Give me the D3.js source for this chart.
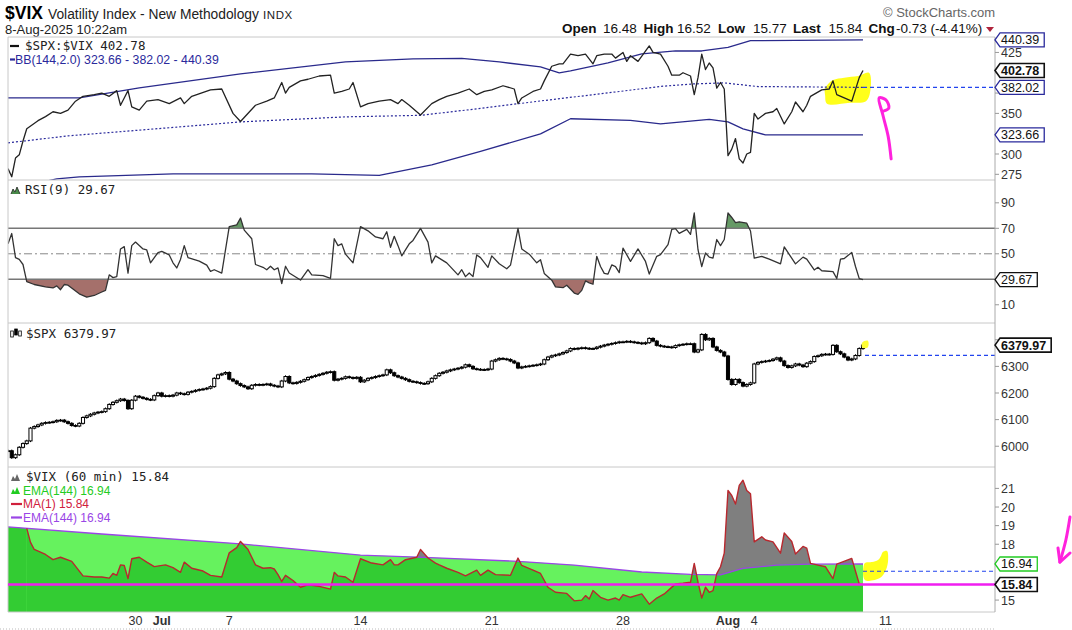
<!DOCTYPE html>
<html>
<head>
<meta charset="utf-8">
<script src="https://cdn.jsdelivr.net/npm/d3@7"></script>
<style>
body { margin: 0; background: #fff; }
svg { display: block; font-family: "Liberation Sans", Arial, sans-serif; }
</style>
</head>
<body>
<svg id="chart" width="1072" height="630"></svg>
<script>
// trading sessions on the time axis: [day, hourly bars]
const sessions = [
  ["Jun 23",6],["Jun 24",7],["Jun 25",7],["Jun 26",7],["Jun 27",7],
  ["Jun 30",7],["Jul 1",7],["Jul 2",7],["Jul 3",4],
  ["Jul 7",7],["Jul 8",7],["Jul 9",7],["Jul 10",7],["Jul 11",7],
  ["Jul 14",7],["Jul 15",7],["Jul 16",7],["Jul 17",7],["Jul 18",7],
  ["Jul 21",7],["Jul 22",7],["Jul 23",7],["Jul 24",7],["Jul 25",7],
  ["Jul 28",7],["Jul 29",7],["Jul 30",7],["Jul 31",7],["Aug 1",7],
  ["Aug 4",7],["Aug 5",7],["Aug 6",7],["Aug 7",7],["Aug 8",7],["Aug 11",7]
]
const tickDays   = ["Jun 30","Jul 1","Jul 7","Jul 14","Jul 21","Jul 28","Aug 1","Aug 4","Aug 11"]
const tickLabels = ["30","Jul","7","14","21","28","Aug","4","11"]

// $SPX:$VIX ratio, [bar, value]
const ratio = [[0,282],[1,272],[2,295],[3,299],[4,316],[5,331],[8,341],[10,346],[12,352],[14,350],[16,354],[18,365],[20,371],[23,373],[25,375],[27,371],[29,378],[30,360],[31,369],[32,378],[33,358],[35,354],[37,365],[40,367],[43,362],[46,369],[47,362],[49,371],[54,379],[57,380],[60,350],[62,340],[66,360],[69,365],[71,369],[73,388],[74,375],[75,382],[78,390],[80,392],[83,396],[86,397],[87,375],[89,377],[91,380],[92,388],[94,358],[96,362],[99,365],[102,367],[104,362],[105,367],[107,360],[110,348],[113,362],[115,367],[117,371],[120,375],[123,380],[125,373],[127,377],[129,379],[132,384],[135,380],[136,362],[137,369],[140,377],[142,380],[143,390],[145,408],[147,411],[148,411],[150,423],[152,421],[154,423],[156,411],[157,421],[159,423],[161,423],[162,418],[164,425],[165,414],[166,421],[168,414],[171,433],[172,425],[174,423],[176,408],[177,397],[179,397],[180,400],[182,396],[183,373],[184,394],[185,423],[186,404],[187,412],[188,406],[189,381],[190,388],[191,380],[192,298],[193,306],[194,319],[195,294],[196,289],[197,300],[198,302],[199,350],[200,343],[202,350],[204,352],[205,356],[207,337],[209,352],[210,364],[212,352],[213,360],[214,371],[217,379],[219,380],[220,390],[221,373],[225,365],[227,394],[228,402.78]]
const bbUpper = [[0,369],[19,369],[35,381.3],[62,398.5],[90,413.3],[108,417],[121,417.6],[131,413.3],[142,407.2],[147,399.8],[150,402.2],[160,412.1],[169,423.2],[178,426.8],[185,426.8],[192,431.2],[198,439.5],[228,440.39]]
const bbMid = [[0,313.7],[16,322.3],[44,332.7],[62,339.5],[90,345.7],[110,347.6],[126,356.1],[142,365.3],[160,375.2],[174,383.2],[183,386.3],[191,387.5],[200,383],[228,382.02]]
const bbLower = [[0,256],[13,269.4],[19,271.9],[44,275.6],[81,275.6],[99,273.6],[113,286.6],[126,303.2],[142,324.8],[150,343.4],[166,341.4],[174,337],[187,342.7],[192,339.5],[196,330.9],[202,323.5],[221,323.5],[228,323.66]]

// RSI(9), [bar, value]
const rsi = [[0,57.8],[1,65.9],[2,47],[3,45.6],[4,41.6],[5,28.1],[7,25.9],[10,24],[12,23.2],[13,24.8],[14,21.8],[15,25.9],[16,25.4],[19,18.6],[21,16],[23,17.3],[25,20],[26,21.3],[27,33.5],[28,31.3],[29,32.1],[30,53.8],[31,55.6],[32,34.9],[33,56.4],[34,59.2],[36,53.8],[37,53],[38,42.9],[40,51],[41,51.9],[43,49.1],[44,42.9],[45,38.9],[46,45.6],[47,56.4],[48,47],[51,44.3],[53,41.1],[54,36.2],[55,37.5],[57,34.9],[59,71.3],[61,72.7],[62,78.1],[63,68.6],[65,61.8],[66,41.6],[68,39.4],[69,37.5],[70,40.2],[71,37.5],[72,38.9],[73,26.7],[74,40.2],[75,34.9],[78,29.4],[80,37.5],[81,33.5],[84,32.9],[86,30.8],[87,61.8],[88,56.4],[89,57.8],[90,49.7],[92,42.9],[94,71.3],[96,68],[98,63.2],[100,61.8],[101,67.3],[102,55.1],[103,63.7],[104,56.4],[105,48.4],[107,57.8],[108,60.5],[110,69.9],[112,59.2],[113,42.9],[114,48.4],[117,42.9],[120,33.5],[121,37.5],[122,32.1],[123,34.9],[124,32.1],[125,49.1],[126,47],[128,39.4],[129,48.4],[131,42.2],[133,38.3],[134,41.1],[136,69.9],[137,53.8],[139,49.7],[141,42.9],[142,45.3],[143,34.6],[145,29.3],[146,24],[148,23.4],[149,25.3],[151,19.2],[152,18.2],[153,21.3],[154,28.7],[155,27.2],[156,26.1],[157,48],[158,40],[159,34.6],[160,34.1],[161,41.3],[162,40],[163,35.2],[164,54.5],[166,44],[168,53.8],[170,44],[171,34.1],[173,48],[174,49.3],[176,57.2],[177,69.2],[178,69.8],[179,66],[181,69.2],[182,65.2],[183,82],[184,53.2],[185,40],[186,50.6],[187,47.4],[188,46.6],[189,61.2],[190,56.4],[191,61.2],[192,82],[193,78.5],[194,74.5],[195,75.1],[197,74],[198,67.9],[199,46.6],[201,48],[203,45.8],[206,42.1],[207,55.4],[210,42.1],[212,47.4],[213,45.8],[215,37.3],[216,39.4],[217,36.7],[220,36],[221,30.6],[222,45.8],[223,46.3],[225,51.1],[226,40],[227,30.5],[228,29.67]]

// $SPX hourly closes, one row per session
const spxClose = [
  5983,5957,5968,5996,6010,6020,
  6068,6074,6080,6086,6089,6090,6092,
  6097,6098,6092,6086,6078,6076,6086,
  6108,6114,6120,6125,6128,6130,6141,
  6157,6165,6171,6177,6172,6141,6173,
  6188,6184,6180,6176,6174,6190,6200,
  6188,6190,6188,6192,6200,6197,6195,
  6203,6206,6210,6213,6215,6218,6224,
  6255,6268,6272,6277,
  6252,6245,6235,6228,6223,6216,6229,
  6232,6230,6232,6234,6229,6226,6223,
  6245,6262,6238,6236,6240,6244,6250,
  6258,6262,6266,6270,6274,6278,6280,
  6248,6252,6255,6261,6258,6255,6259,
  6242,6248,6255,6258,6262,6265,6268,
  6287,6276,6265,6260,6255,6250,6244,
  6242,6239,6236,6235,6242,6255,6265,
  6274,6278,6283,6287,6290,6293,6297,
  6306,6300,6291,6289,6288,6287,6290,
  6320,6325,6330,6328,6326,6320,6313,
  6294,6298,6300,6302,6304,6306,6309,
  6325,6335,6340,6343,6347,6352,6358,
  6367,6365,6368,6370,6368,6366,6367,
  6372,6376,6380,6383,6386,6389,6392,
  6392,6394,6392,6390,6388,6385,6389,
  6405,6395,6379,6376,6374,6373,6371,
  6378,6381,6383,6385,6385,6354,6362,
  6420,6400,6405,6373,6360,6354,6339,
  6251,6232,6251,6239,6226,6232,6238,
  6309,6315,6318,6320,6322,6327,6332,
  6320,6303,6296,6302,6309,6305,6299,
  6312,6318,6337,6340,6345,6346,6345,
  6379,6355,6347,6335,6324,6328,6341,
  6367,6379.97
]

// $VIX (60 min) close = MA(1), and EMA(144), [bar, value]
const vix = [[5,18.85],[6,18.1],[7,17.72],[10,17.45],[12,17.17],[14,17.3],[17,17.08],[20,16.3],[23,16.24],[25,16.24],[27,16.18],[28,16.43],[29,16.33],[30,16.89],[31,16.86],[32,16.15],[33,17.22],[35,17.3],[37,17.04],[39,16.8],[42,16.89],[44,16.74],[46,16.49],[47,17.04],[49,16.71],[52,16.56],[54,16.33],[57,16.24],[59,17.54],[61,17.82],[62,18.15],[64,17.72],[66,16.89],[68,16.71],[70,16.74],[71,16.67],[72,16.37],[73,16.0],[74,16.33],[76,16.05],[78,15.69],[80,15.82],[83,15.74],[86,15.59],[87,16.49],[88,16.3],[90,16.24],[92,15.96],[94,17.22],[97,16.99],[100,16.89],[102,17.17],[103,16.89],[104,16.89],[106,17.17],[109,17.3],[110,17.72],[112,17.26],[114,16.99],[115,16.89],[117,16.71],[120,16.49],[122,16.3],[125,16.61],[126,16.33],[128,16.61],[130,16.37],[134,16.33],[136,17.26],[137,16.86],[140,16.61],[142,16.43],[144,15.69],[146,15.42],[149,15.36],[151,14.96],[153,15.0],[154,15.24],[155,15.06],[156,15.51],[158,15.15],[160,15.0],[162,15.11],[163,15.0],[164,15.29],[166,15.15],[169,15.33],[171,14.78],[173,15.11],[175,15.33],[178,15.87],[180,15.91],[182,15.96],[183,16.97],[184,15.96],[185,15.11],[186,15.69],[187,15.42],[188,15.51],[189,16.42],[190,16.79],[191,17.52],[192,20.89],[193,20.62],[194,20.16],[195,21.16],[196,21.44],[197,20.89],[198,20.71],[199,18.13],[201,18.4],[202,18.23],[204,18.13],[206,17.52],[207,18.61],[209,18.15],[210,17.48],[212,17.88],[213,17.79],[214,16.97],[216,16.88],[218,16.79],[220,16.15],[221,16.93],[225,17.24],[226,16.55],[227,15.87],[228,15.84]]
const ema144 = [[0,18.93],[25,18.55],[62,18.02],[94,17.42],[111,17.3],[136,17.08],[151,16.88],[169,16.51],[182,16.38],[190,16.35],[196,16.7],[205,16.88],[214,16.93],[228,16.94]]

// hand-drawn marks on the chart, [bar, value]
const markRatio = [[217.9,381],[220,391],[223,394],[226.7,396],[229.6,400],[230,379],[228.8,365],[224.5,363],[218.4,362],[217.9,372]]
const arrowRatio = [[235.5,294],[234.7,322],[233.3,348],[232.3,369],[234.1,366.6],[234.9,356.7],[233.6,353]]
const markSpx = [[227.8,6370],[227.8,6390],[229.3,6396],[229.3,6372]]
const markVix = [[228.5,16.99],[230.4,17.04],[232,17.15],[232.8,17.37],[233.3,17.58],[234.4,17.64],[234.7,17.15],[234.1,16.61],[232.5,16.18],[228.5,16.08]]
const arrowVixStem = [[283.2,19.46],[282.1,18.23],[280.5,17.04]]
const arrowVixHead = [[280,17.8],[280.5,17.04],[283.2,17.53]]

const svg = d3.select("#chart")
const defs = svg.append("defs")
const fmt = d3.format(".2f")

const barStart = {}
let acc = 0
sessions.forEach(([d, n]) => { barStart[d] = acc; acc += n })

const left = 8, right = 995
const x = d3.scaleLinear().domain([0, 263.2]).range([left, right])

const yRatio = d3.scaleLinear().domain([268, 444]).range([180, 37])
const yRsi = d3.scaleLinear().domain([-4.3, 107.9]).range([323, 180])
const ySpx = d3.scaleLinear().domain([5922, 6463]).range([467, 323])
const yVix = d3.scaleLinear().domain([14.36, 22.15]).range([612, 467])

const panels = [
  {id: "p1", y: yRatio}, {id: "p2", y: yRsi}, {id: "p3", y: ySpx}, {id: "p4", y: yVix}
]
panels.forEach(p => {
  const [b, t] = p.y.range()
  p.top = t; p.bottom = b
  defs.append("clipPath").attr("id", "clip-" + p.id)
    .append("rect").attr("x", left).attr("y", t).attr("width", right - left).attr("height", b - t)
  p.g = svg.append("g").attr("clip-path", "url(#clip-" + p.id + ")")
})

const lineOf = y => d3.line().x(d => x(d[0])).y(d => y(d[1]))
function drawLine(g, data, y, color, width, dash) {
  return g.append("path").datum(data).attr("d", lineOf(y))
    .attr("fill", "none").attr("stroke", color).attr("stroke-width", width)
    .attr("stroke-linejoin", "round").attr("stroke-dasharray", dash || null)
}
function drawMark(g, data, y, color) {
  g.append("path").datum(data).attr("d", lineOf(y).curve(d3.curveCatmullRomClosed))
    .attr("fill", color).attr("stroke", "none")
}
function drawPen(data, y, curve) {
  svg.append("path").datum(data).attr("d", lineOf(y).curve(curve || d3.curveLinear))
    .attr("fill", "none").attr("stroke", "#ff22dd").attr("stroke-width", 3)
    .attr("stroke-linecap", "round").attr("stroke-linejoin", "round")
}

// ---------- header ----------
svg.append("text").attr("x", 5).attr("y", 19).attr("font-size", 17.5).attr("font-weight", "bold").text("$VIX")
svg.append("text").attr("x", 48).attr("y", 19).attr("font-size", 13.8).attr("fill", "#222").text("Volatility Index - New Methodology")
svg.append("text").attr("x", 263).attr("y", 19).attr("font-size", 11.5).attr("fill", "#222").attr("letter-spacing", 0.6).text("INDX")
svg.append("text").attr("x", 5).attr("y", 34).attr("font-size", 13).attr("fill", "#222").text("8-Aug-2025 10:22am")
svg.append("text").attr("x", 883).attr("y", 17).attr("font-size", 13).attr("fill", "#666").text("\u00a9 StockCharts.com")

const quote = [["Open", 562], ["16.48", 603], ["High", 643.5], ["16.52", 677], ["Low", 718], ["15.77", 753],
  ["Last", 793], ["15.84", 828.5], ["Chg", 868.5], ["-0.73 (-4.41%)", 896]]
quote.forEach((q, i) => {
  svg.append("text").attr("x", q[1]).attr("y", 33).attr("font-size", 13.5)
    .attr("font-weight", i % 2 ? "normal" : "bold").attr("fill", "#111").text(q[0])
})
svg.append("path").attr("d", "M986,27 L994,27 L990,32 Z").attr("fill", "#b0243c")

// ---------- frames ----------
const frame = svg.append("g").attr("stroke", "#c8c8c8").attr("fill", "none")
panels.forEach(p => frame.append("line").attr("x1", left).attr("x2", right).attr("y1", p.top).attr("y2", p.top))
frame.append("line").attr("x1", left).attr("x2", right).attr("y1", 612).attr("y2", 612)
frame.append("line").attr("x1", left).attr("x2", left).attr("y1", 37).attr("y2", 612)
frame.append("line").attr("x1", right).attr("x2", right).attr("y1", 37).attr("y2", 612).attr("stroke", "#aaa")
svg.append("line").attr("x1", 0).attr("x2", right).attr("y1", 629).attr("y2", 629)
  .attr("stroke", "#bbb").attr("stroke-dasharray", "1,2")

// ---------- panel 1: $SPX:$VIX with Bollinger Bands ----------
const g1 = panels[0].g
drawMark(g1, markRatio, yRatio, "#ffff1a")
drawLine(g1, bbUpper, yRatio, "#2a2a8c", 1.3)
drawLine(g1, bbLower, yRatio, "#2a2a8c", 1.3)
drawLine(g1, bbMid, yRatio, "#2a2a9c", 1.2, "2,2")
drawLine(g1, ratio, yRatio, "#222", 1.3)
const midLast = bbMid[bbMid.length - 1]
g1.append("line").attr("x1", x(midLast[0])).attr("x2", right).attr("y1", yRatio(midLast[1])).attr("y2", yRatio(midLast[1]))
  .attr("stroke", "#2244ee").attr("stroke-width", 1.2).attr("stroke-dasharray", "4,3")
drawPen(arrowRatio, yRatio, d3.curveCatmullRom)

// ---------- panel 2: RSI ----------
const g2 = panels[1].g
defs.append("clipPath").attr("id", "rsi-low").append("rect")
  .attr("x", left).attr("y", yRsi(30)).attr("width", right - left).attr("height", 323 - yRsi(30))
defs.append("clipPath").attr("id", "rsi-high").append("rect")
  .attr("x", left).attr("y", 180).attr("width", right - left).attr("height", yRsi(70) - 180)
g2.append("path").datum(rsi).attr("clip-path", "url(#rsi-low)")
  .attr("d", d3.area().x(d => x(d[0])).y0(yRsi(30)).y1(d => yRsi(d[1]))).attr("fill", "#a5706b")
g2.append("path").datum(rsi).attr("clip-path", "url(#rsi-high)")
  .attr("d", d3.area().x(d => x(d[0])).y0(yRsi(70)).y1(d => yRsi(d[1]))).attr("fill", "#669a66")
;[70, 30].forEach(v => g2.append("line").attr("x1", left).attr("x2", right).attr("y1", yRsi(v)).attr("y2", yRsi(v))
  .attr("stroke", "#777").attr("stroke-width", 1.4))
g2.append("line").attr("x1", left).attr("x2", right).attr("y1", yRsi(50)).attr("y2", yRsi(50))
  .attr("stroke", "#888").attr("stroke-width", 1).attr("stroke-dasharray", "8,3,2,3")
drawLine(g2, rsi, yRsi, "#333", 1.3)

// ---------- panel 3: $SPX candles ----------
const g3 = panels[2].g
const candles = spxClose.map((c, i) => ({i: i, o: i ? spxClose[i - 1] : c, c: c}))
const cw = 3.1
g3.selectAll("line.wick").data(candles).enter().append("line").attr("class", "wick")
  .attr("x1", d => x(d.i)).attr("x2", d => x(d.i))
  .attr("y1", d => ySpx(Math.max(d.o, d.c)) - 1.2).attr("y2", d => ySpx(Math.min(d.o, d.c)) + 1.2)
  .attr("stroke", "#000").attr("stroke-width", 1)
g3.selectAll("rect.body").data(candles).enter().append("rect").attr("class", "body")
  .attr("x", d => x(d.i) - cw / 2).attr("width", cw)
  .attr("y", d => ySpx(Math.max(d.o, d.c)))
  .attr("height", d => Math.max(0.8, Math.abs(ySpx(d.o) - ySpx(d.c))))
  .attr("fill", d => d.c >= d.o ? "#fff" : "#000").attr("stroke", "#000").attr("stroke-width", 1)
drawMark(g3, markSpx, ySpx, "#ffff33")
const spxPrev = spxClose[spxClose.length - 3]
g3.append("line").attr("x1", x(spxClose.length - 1) + 2).attr("x2", right).attr("y1", ySpx(spxPrev)).attr("y2", ySpx(spxPrev))
  .attr("stroke", "#2244ee").attr("stroke-width", 1.2).attr("stroke-dasharray", "4,3")

// ---------- panel 4: $VIX areas ----------
const g4 = panels[3].g
const bottom4 = 612
const areaOf = () => d3.area().x(d => x(d[0])).y0(bottom4).y1(d => yVix(d[1]))
defs.append("clipPath").attr("id", "ema-clip").append("path").datum(ema144).attr("d", areaOf())
defs.append("clipPath").attr("id", "pre-vix").append("rect")
  .attr("x", left).attr("y", 467).attr("width", x(vix[0][0]) - left).attr("height", bottom4 - 467)
g4.append("path").datum(vix).attr("d", areaOf()).attr("fill", "#7f7f7f")
g4.append("path").datum(ema144).attr("d", areaOf()).attr("fill", "#66f25e")
g4.append("path").datum(vix).attr("d", areaOf()).attr("clip-path", "url(#ema-clip)").attr("fill", "#33cc33")
g4.append("path").datum(ema144).attr("d", areaOf()).attr("clip-path", "url(#pre-vix)").attr("fill", "#33cc33")
drawMark(g4, markVix, yVix, "#ffff1a")
drawLine(g4, ema144, yVix, "#9a45e6", 1.3)
drawLine(g4, vix, yVix, "#b8282e", 1.4)
const vixLast = vix[vix.length - 1], vixPrev = vix[vix.length - 3]
g4.append("line").attr("x1", x(vixLast[0])).attr("x2", right).attr("y1", yVix(vixPrev[1])).attr("y2", yVix(vixPrev[1]))
  .attr("stroke", "#2244ee").attr("stroke-width", 1.2).attr("stroke-dasharray", "4,3")
svg.append("line").attr("x1", left).attr("x2", right).attr("y1", yVix(vixLast[1])).attr("y2", yVix(vixLast[1]))
  .attr("stroke", "#f01ef0").attr("stroke-width", 2.5)
drawPen(arrowVixStem, yVix, d3.curveCatmullRom)
drawPen(arrowVixHead, yVix)

// ---------- right axes and value tags ----------
const tagSpots = []
function tag(y, value, color, bold) {
  tagSpots.push({y: y, yPos: y(value), value: value, color: color, bold: bold})
}
const last = a => a[a.length - 1][1]
tag(yRatio, last(bbUpper), "#2a2a9c", false)
tag(yRatio, last(ratio), "#111", true)
tag(yRatio, last(bbMid), "#2a2a9c", false)
tag(yRatio, last(bbLower), "#2a2a9c", false)
tag(yRsi, last(rsi), "#111", false)
tag(ySpx, spxClose[spxClose.length - 1], "#111", true)
tag(yVix, last(ema144), "#22cc22", false)
tag(yVix, last(vix), "#111", true)

function axisLabels(y, ticks) {
  ticks.forEach(v => {
    const yp = y(v)
    svg.append("line").attr("x1", right).attr("x2", right + 4).attr("y1", yp).attr("y2", yp).attr("stroke", "#999")
    // labels sitting under a value tag are covered by it
    if (tagSpots.some(t => Math.abs(t.yPos - yp) < 11)) return
    svg.append("text").attr("x", right + 6).attr("y", yp + 4.5).attr("font-size", 12.5).attr("fill", "#333").text(v)
  })
}
axisLabels(yRatio, [275, 300, 325, 350, 375, 400, 425])
axisLabels(yRsi, [10, 30, 50, 70, 90])
axisLabels(ySpx, [6000, 6100, 6200, 6300, 6400])
axisLabels(yVix, [15, 16, 17, 18, 19, 20, 21])

tagSpots.forEach(s => {
  const g = svg.append("g")
  const path = g.append("path")
  const t = g.append("text").attr("x", right + 6).attr("y", s.yPos + 4.5).attr("font-size", 12.5)
    .attr("font-weight", s.bold ? "bold" : "normal").attr("fill", "#111").text(fmt(s.value))
  const w = t.node().getComputedTextLength() + 9
  const yp = s.yPos
  path.attr("d", `M${right},${yp} L${right + 5},${yp - 7} L${right + 2 + w},${yp - 7} L${right + 2 + w},${yp + 7} L${right + 5},${yp + 7} Z`)
    .attr("fill", "#fff").attr("stroke", s.color).attr("stroke-width", s.bold ? 1.6 : 1.3)
})

// ---------- time axis ----------
tickDays.forEach((d, k) => {
  const bold = tickLabels[k] === "Jul" || tickLabels[k] === "Aug"
  svg.append("text").attr("x", x(barStart[d])).attr("y", 625).attr("text-anchor", "middle")
    .attr("font-size", 12.5).attr("font-weight", bold ? "bold" : "normal").attr("fill", "#333").text(tickLabels[k])
})

// ---------- legends ----------
const mono = "DejaVu Sans Mono, monospace"
function legendText(xp, yp, txt, color, size, family) {
  svg.append("text").attr("x", xp).attr("y", yp).attr("font-size", size).attr("fill", color)
    .attr("font-family", family || null).text(txt)
}
function legendDash(yp, color, x1, x2) {
  svg.append("line").attr("x1", x1).attr("x2", x2).attr("y1", yp).attr("y2", yp).attr("stroke", color).attr("stroke-width", 2.2)
}
function legendMountain(xp, yp, color) {
  svg.append("path").attr("d", `M${xp},${yp} L${xp + 2},${yp - 5} L${xp + 4},${yp - 2} L${xp + 6},${yp - 7} L${xp + 9},${yp} Z`).attr("fill", color)
}
legendDash(46, "#111", 10, 19)
legendText(25, 50, "$SPX:$VIX " + fmt(last(ratio)), "#222", 12.5, mono)
legendDash(59.5, "#2a2a9c", 10, 15)
legendText(15, 64, `BB(144,2.0) ${fmt(last(bbLower))} - ${fmt(last(bbMid))} - ${fmt(last(bbUpper))}`, "#2a2a9c", 12.3)

legendMountain(11, 194, "#4a8a4a")
svg.append("path").attr("d", "M11,194 L13,189 L15,192 L17,187 L20,194").attr("fill", "none").attr("stroke", "#222").attr("stroke-width", 0.8)
legendText(25, 194, "RSI(9) " + fmt(last(rsi)), "#222", 12.5, mono)

;[[12, 331, 337], [16, 329, 335], [20, 331, 336]].forEach((c, k) => {
  svg.append("rect").attr("x", c[0] - 1.3).attr("y", c[1]).attr("width", 2.6).attr("height", c[2] - c[1])
    .attr("fill", k === 1 ? "#000" : "#fff").attr("stroke", "#000").attr("stroke-width", 0.8)
})
legendText(26, 338, "$SPX " + fmt(spxClose[spxClose.length - 1]), "#222", 12.5, mono)

legendMountain(11, 481, "#666")
legendText(26, 481, "$VIX (60 min) " + fmt(last(vix)), "#222", 12.5, mono)
legendMountain(11, 494, "#22cc22")
legendText(23, 494.5, "EMA(144) " + fmt(last(ema144)), "#22cc22", 12)
legendDash(504, "#d0203c", 11, 22)
legendText(23, 508, "MA(1) " + fmt(last(vix)), "#d0203c", 12)
legendDash(517.5, "#9a45e6", 11, 22)
legendText(23, 521.5, "EMA(144) " + fmt(last(ema144)), "#9a45e6", 12)
</script>
</body>
</html>
